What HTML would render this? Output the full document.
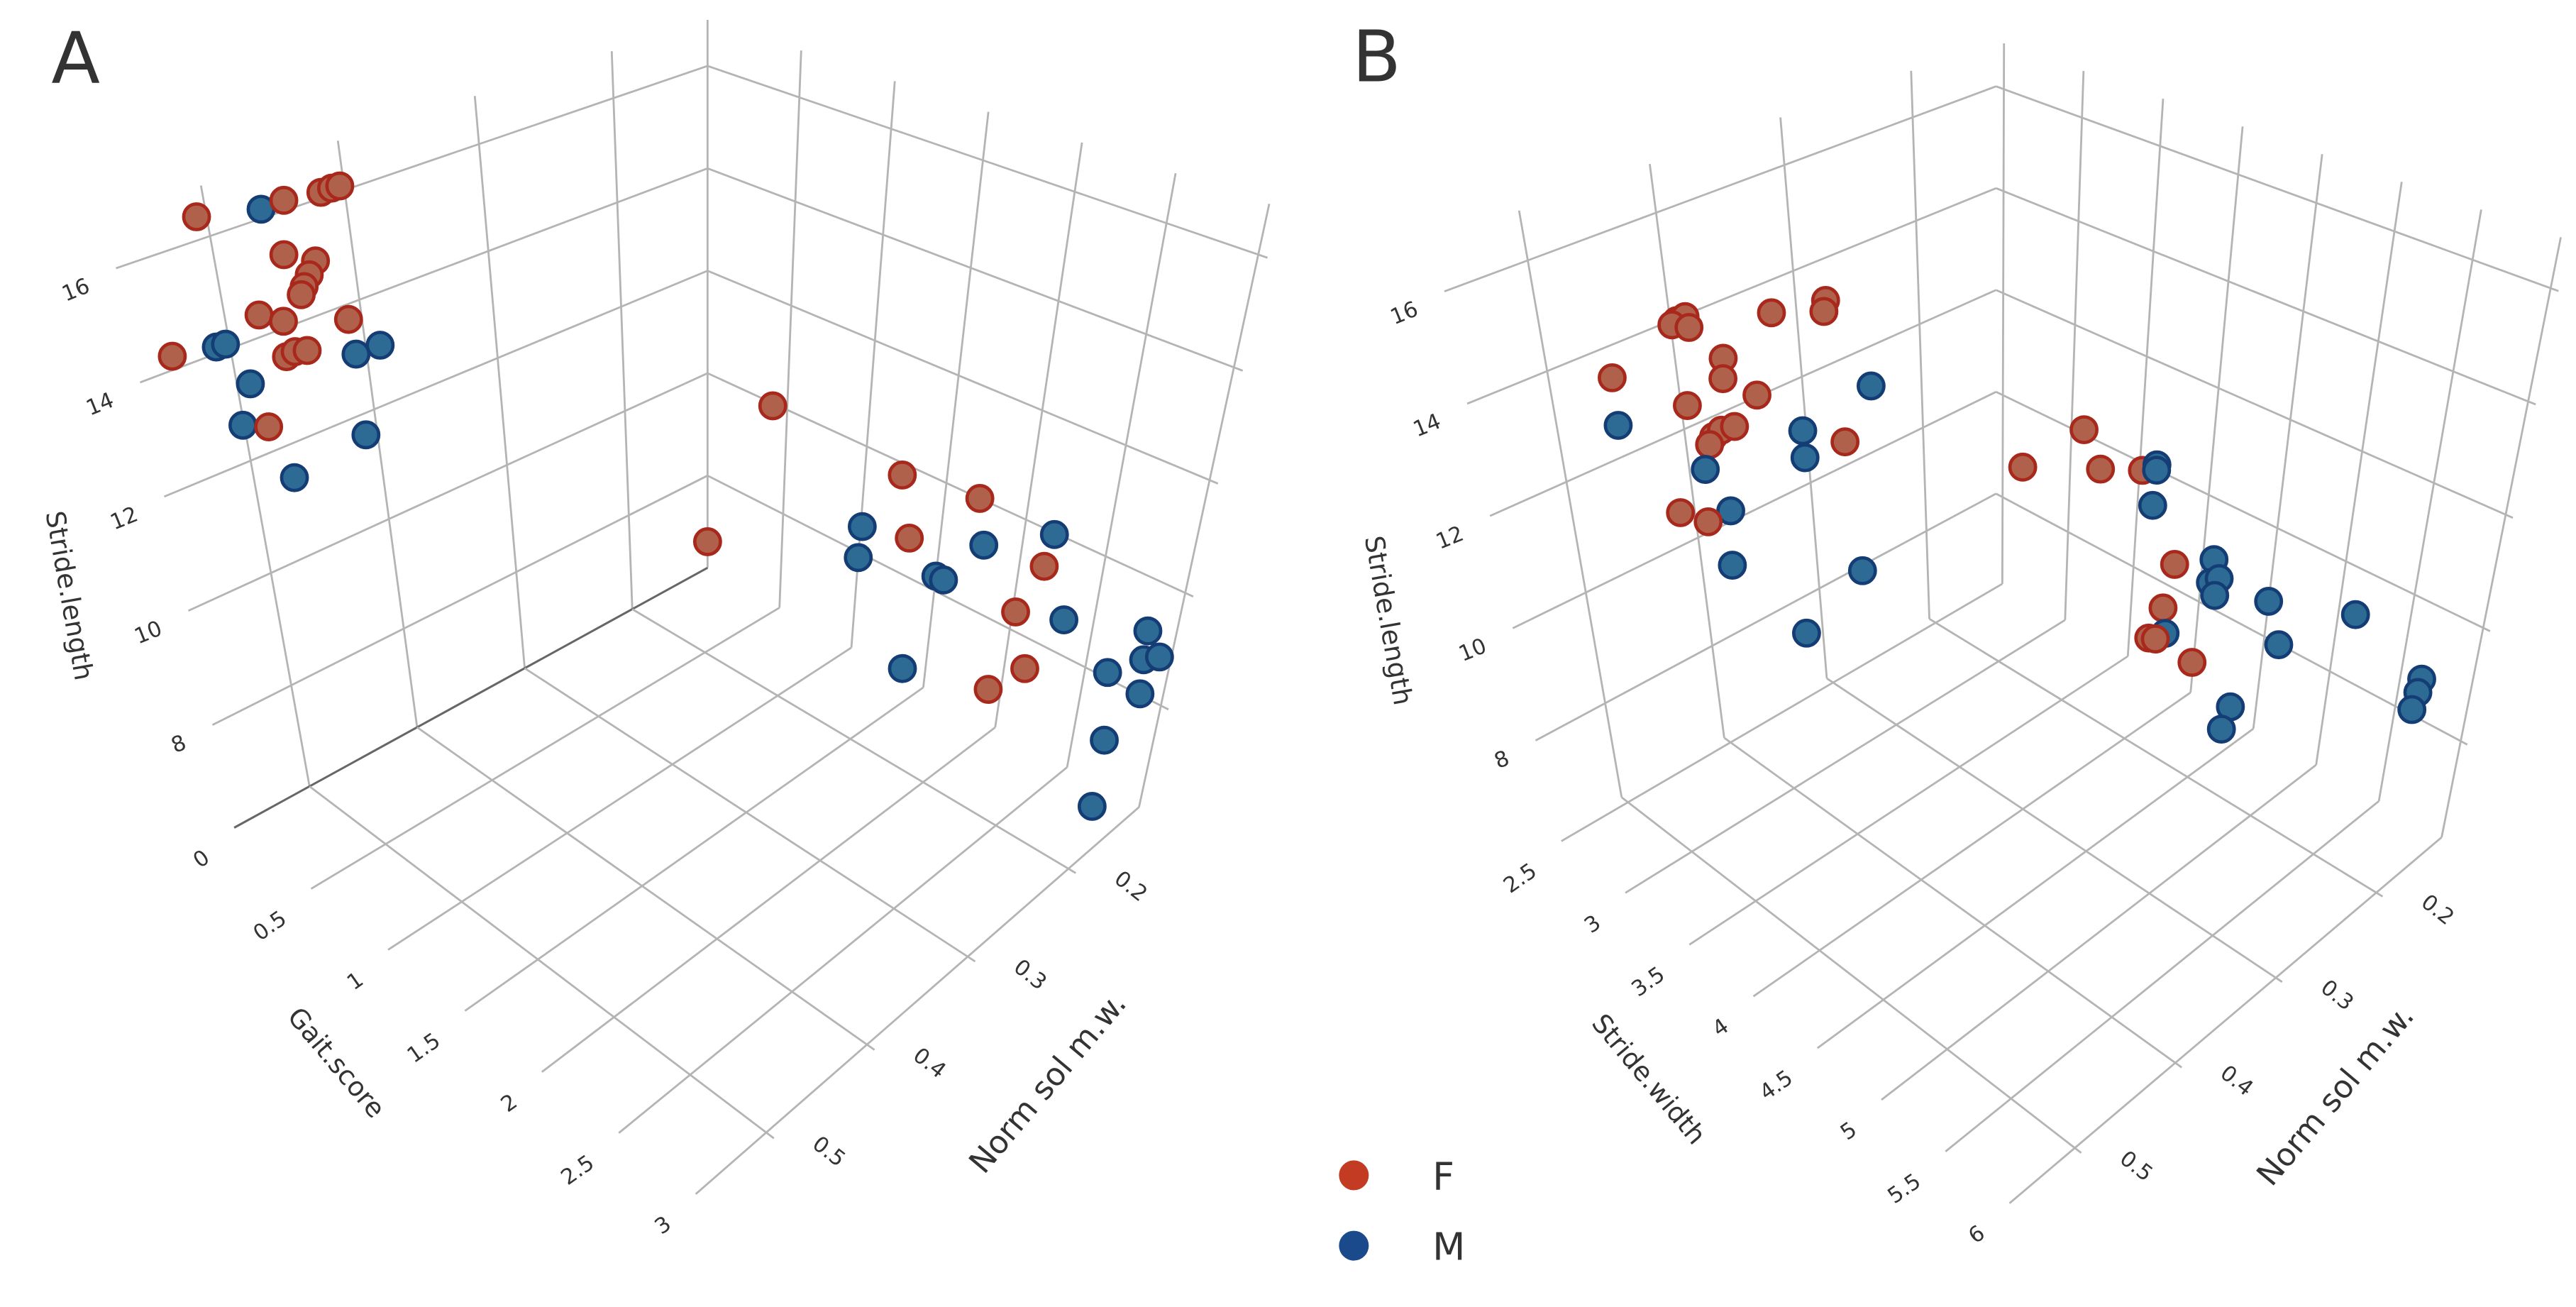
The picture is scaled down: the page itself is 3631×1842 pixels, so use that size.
<!DOCTYPE html>
<html><head><meta charset="utf-8"><title>3D scatter A/B</title>
<style>
html,body{margin:0;padding:0;background:#fff;}
svg{display:block;}
text{font-family:"DejaVu Sans","Liberation Sans",sans-serif;fill:#333;}
</style></head>
<body>
<svg id="chart" xmlns="http://www.w3.org/2000/svg" width="3631" height="1842" viewBox="0 0 3631 1842">
<rect width="3631" height="1842" fill="#fff"/>
<g id="panelA" transform="scale(1.1665)"></g>
<g id="panelB" transform="translate(1815,0) scale(1.1665)"></g>
</svg>
<script>
// ---------- Panel A data ----------
const aSex    = ['F','M','F','F','F','F','F','F','F','F','F','F','F','F','M','M','F','F','F','F','M','M','M','M','F','M','M',
                 'F','F','F','F','M','F','M','M','M','M','M','F','F','M','M','F','F','M','M','M','M','M','M','M'];
const aGait   = [0,0,0,0,0,0,0,0,0,0,0,0,0,0,0,0,0,0,0,0,0,0,0,0,0,0,0,
                 0.41,0,1.23,1.71,1.01,1.31,1.0,1.77,1.50,1.55,2.18,2.15,2.02,2.32,1.35,2.13,1.92,2.83,2.64,2.84,2.93,2.86,2.70,3.05];
const aNorm   = [0.507,0.461,0.444,0.417,0.409,0.403,0.45,0.428,0.434,0.439,0.442,0.475,0.458,0.41,0.51,0.503,0.543,0.46,0.453,0.444,0.408,0.389,0.49,0.501,0.482,0.409,0.469,
                 0.13,0.13,0.13,0.13,0.13,0.13,0.13,0.13,0.13,0.13,0.13,0.13,0.13,0.13,0.13,0.13,0.13,0.13,0.13,0.13,0.13,0.13,0.13,0.195];
const aStride = [16.4,16.16,16.18,16.1,16.11,16.1,15.25,14.95,14.75,14.58,14.46,14.38,14.12,13.73,14.11,14.1,14.23,13.5,13.53,13.47,13.08,13.07,13.28,12.64,12.44,11.62,11.41,
                 9.95,6.71,9.78,10.0,8.5,8.71,7.9,9.22,8.27,8.27,9.97,9.35,8.34,8.61,6.33,7.46,6.78,9.1,8.1,8.6,8.77,8.02,6.97,7.28];
const aStrideTicks = [8,10,12,14,16];
const aGaitTicks   = [0,0.5,1,1.5,2,2.5,3];
const aGaitTickLabels = ['0','0.5','1','1.5','2','2.5','3'];
const aNormTicks   = [0.2,0.3,0.4,0.5];
const aNormTickLabels = ['0.2','0.3','0.4','0.5'];

// ---------- Panel B data ----------
const bSex    = ['F','M','F','F','F','F','F','F','F','F','F','F','F','F','F','F','F','M','M','M','F','M','M','F','F','M','M','M',
                 'F','F','F','F','M','M','M','F','M','M','M','M','M','F','M','F','F','M','M','F','M','M','M','M','M'];
const bWidth  = [2.45,2.45,2.45,2.45,2.45,2.45,2.45,2.45,2.45,2.45,2.45,2.45,2.45,2.45,2.45,2.45,2.45,2.45,2.45,2.45,2.45,2.45,2.45,2.45,2.45,2.45,2.45,2.45,
                 2.65,3.09,3.22,3.52,3.62,3.62,3.61,3.8,4.08,4.07,4.13,4.11,4.5,3.74,3.77,3.65,3.7,5.12,4.61,3.99,5.65,5.64,5.62,4.31,4.72];
const bNorm   = [0.451,0.452,0.395,0.388,0.399,0.386,0.32,0.276,0.278,0.362,0.364,0.338,0.395,0.377,0.37,0.359,0.381,0.243,0.303,0.303,0.268,0.387,0.37,0.412,0.39,0.374,0.26,0.315,
                 0.135,0.135,0.135,0.135,0.135,0.135,0.135,0.135,0.135,0.135,0.135,0.135,0.135,0.135,0.135,0.135,0.135,0.135,0.135,0.135,0.135,0.135,0.135,0.135,0.2];
const bStride = [13.43,12.57,13.96,13.97,13.92,13.75,13.4,13.21,13.02,12.95,12.59,12.03,12.39,11.64,11.69,11.65,11.53,11.25,11.01,10.5,10.44,11.13,10.19,10.58,10.19,9.22,7.9,7.32,
                 8.79,10.09,9.5,9.86,10.09,9.99,9.31,8.44,8.89,8.45,8.6,8.26,8.65,7.54,7.1,6.85,6.9,9.18,7.99,6.85,8.67,8.42,8.09,6.45,7.46];
const bStrideTicks = [8,10,12,14,16];
const bWidthTicks  = [2.5,3,3.5,4,4.5,5,5.5,6];
const bWidthTickLabels = ['2.5','3','3.5','4','4.5','5','5.5','6'];
const bNormTicks   = [0.2,0.3,0.4,0.5];
const bNormTickLabels = ['0.2','0.3','0.4','0.5'];

const NS='http://www.w3.org/2000/svg';
function mk(tag,attrs,parent){const e=document.createElementNS(NS,tag);for(const k in attrs)e.setAttribute(k,attrs[k]);parent.appendChild(e);return e;}

function makeProj(C,xr,yr,zr){
  return function(x,y,z){
    const a=(x-xr[0])/(xr[1]-xr[0]), b=(y-yr[0])/(yr[1]-yr[0]), c=(z-zr[0])/(zr[1]-zr[0]);
    function bil(P0,PR,PF,PL,i){return P0[i]*(1-a)*(1-b)+PR[i]*a*(1-b)+PF[i]*a*b+PL[i]*(1-a)*b;}
    const bx=bil(C.B,C.R,C.F,C.L,0), by=bil(C.B,C.R,C.F,C.L,1);
    const tx=bil(C.Bt,C.Rt,C.Ft,C.Lt,0), ty=bil(C.Bt,C.Rt,C.Ft,C.Lt,1);
    return [bx*(1-c)+tx*c, by*(1-c)+ty*c];
  };
}

function drawPanel(g,cfg){
  const P=makeProj(cfg.C,cfg.xr,cfg.yr,cfg.zr);
  const [x0,x1]=cfg.xr,[y0,y1]=cfg.yr,[z0,z1]=cfg.zr;
  const grid=mk('g',{},g);
  
  
  function line(p,q,name,col,w){
    const l=mk('line',{x1:p[0],y1:p[1],x2:q[0],y2:q[1],stroke:col||'#b4b4b4','stroke-width':w||2.4},grid);
    
    
  }
  cfg.zt.forEach(z=>line(P(x0,y0,z),P(x0,y1,z),'left-wall-gridline'));
  cfg.yt.forEach(y=>line(P(x0,y,z0),P(x0,y,z1),'left-wall-gridline'));
  cfg.zt.forEach(z=>line(P(x0,y0,z),P(x1,y0,z),'right-wall-gridline'));
  cfg.xt.forEach(x=>line(P(x,y0,z0),P(x,y0,z1),'right-wall-gridline'));
  cfg.xt.forEach(x=>line(P(x,y0,z0),P(x,y1,z0),'floor-gridline', x===0?'#666':null, x===0?2.6:null));
  cfg.yt.forEach(y=>line(P(x0,y,z0),P(x1,y,z0),'floor-gridline'));

  const tl=mk('g',{'font-size':26},g);
  
  
  cfg.zt.forEach(z=>{const p=P(x0,y1,z);
    const t=mk('text',{x:p[0]-30,y:p[1]+28,'text-anchor':'end',transform:`rotate(-22 ${p[0]-30} ${p[1]+28})`},tl);
    t.textContent=String(z);
    
    });
  cfg.xt.forEach((x,i)=>{const p=P(x,y1,z0);const lx=p[0]-28,ly=p[1]+40;
    const t=mk('text',{x:lx,y:ly,'text-anchor':'end',transform:`rotate(-35 ${lx} ${ly})`},tl);
    t.textContent=cfg.xl[i];
    
    });
  cfg.yt.forEach((y,i)=>{const p=P(x1,y,z0);const lx=p[0]+45,ly=p[1]+10;
    const t=mk('text',{x:lx,y:ly,'text-anchor':'start',transform:`rotate(38 ${lx} ${ly})`},tl);
    t.textContent=cfg.yl[i];
    
    });

  cfg.titles.forEach(tt=>{
    const t=mk('text',{x:tt.x,y:tt.y,'font-size':tt.fs,'text-anchor':'middle','dominant-baseline':'middle',transform:`rotate(${tt.r} ${tt.x} ${tt.y})`,fill:'#222'},g);
    t.textContent=tt.s;
    
    
  });

  const pts=mk('g',{},g);
  
  
  for(let i=0;i<cfg.X.length;i++){
    const p=P(cfg.X[i],cfg.Y[i],cfg.Z[i]);
    const f=cfg.S[i]==='F';
    const c=mk('circle',{cx:p[0],cy:p[1],r:15.5,fill:f?'#b0614c':'#2d6b94',stroke:f?'#a8281c':'#133d74','stroke-width':4},pts);
    
    
  }
}

drawPanel(document.getElementById('panelA'),{
  C:{B:[855,686],L:[283,1000],F:[850,1450],R:[1385,980],Bt:[855,24],Lt:[127,262],Ft:[845,620],Rt:[1545,250]},
  xr:[0,3.05],yr:[0.13,0.57],zr:[6.2,16.9],
  xt:aGaitTicks,xl:aGaitTickLabels,yt:aNormTicks,yl:aNormTickLabels,zt:aStrideTicks,
  X:aGait,Y:aNorm,Z:aStride,S:aSex,
  titles:[{s:'Stride.length',x:82,y:720,r:80,fs:32,name:'z-axis-title'},
          {s:'Gait.score',x:405,y:1285,r:50,fs:32,name:'x-axis-title'},
          {s:'Norm sol m.w.',x:1268,y:1310,r:-50,fs:38,name:'y-axis-title'}]
});
drawPanel(document.getElementById('panelB'),{
  C:{B:[856,701],L:[323,1010],F:[880,1460],R:[1402,1016],Bt:[856,49],Lt:[177,291],Ft:[870,600],Rt:[1548,290]},
  xr:[2.45,6.05],yr:[0.135,0.565],zr:[6.3,16.9],
  xt:bWidthTicks,xl:bWidthTickLabels,yt:bNormTicks,yl:bNormTickLabels,zt:bStrideTicks,
  X:bWidth,Y:bNorm,Z:bStride,S:bSex,
  titles:[{s:'Stride.length',x:120,y:750,r:80,fs:32,name:'z-axis-title'},
          {s:'Stride.width',x:435,y:1305,r:50,fs:32,name:'x-axis-title'},
          {s:'Norm sol m.w.',x:1268,y:1325,r:-50,fs:38,name:'y-axis-title'}]
});

(function(){
  const A=document.getElementById('panelA'),B=document.getElementById('panelB');
  const la=mk('text',{x:62,y:100,'font-size':86,fill:'#000'},A);la.textContent='A';
  
  
  const lb=mk('text',{x:78,y:98,'font-size':86,fill:'#000'},B);lb.textContent='B';
  
  
  const lg=mk('g',{},B);
  
  
  [['F','#c23b22',1420],['M','#1a4a8c',1505]].forEach(d=>{
    const e=mk('g',{},lg);
    
    
    mk('circle',{cx:80,cy:d[2],r:18,fill:d[1]},e);
    const t=mk('text',{x:175,y:d[2]+17,'font-size':46,fill:'#555'},e);t.textContent=d[0];
  });
})();
</script>
</body></html>
